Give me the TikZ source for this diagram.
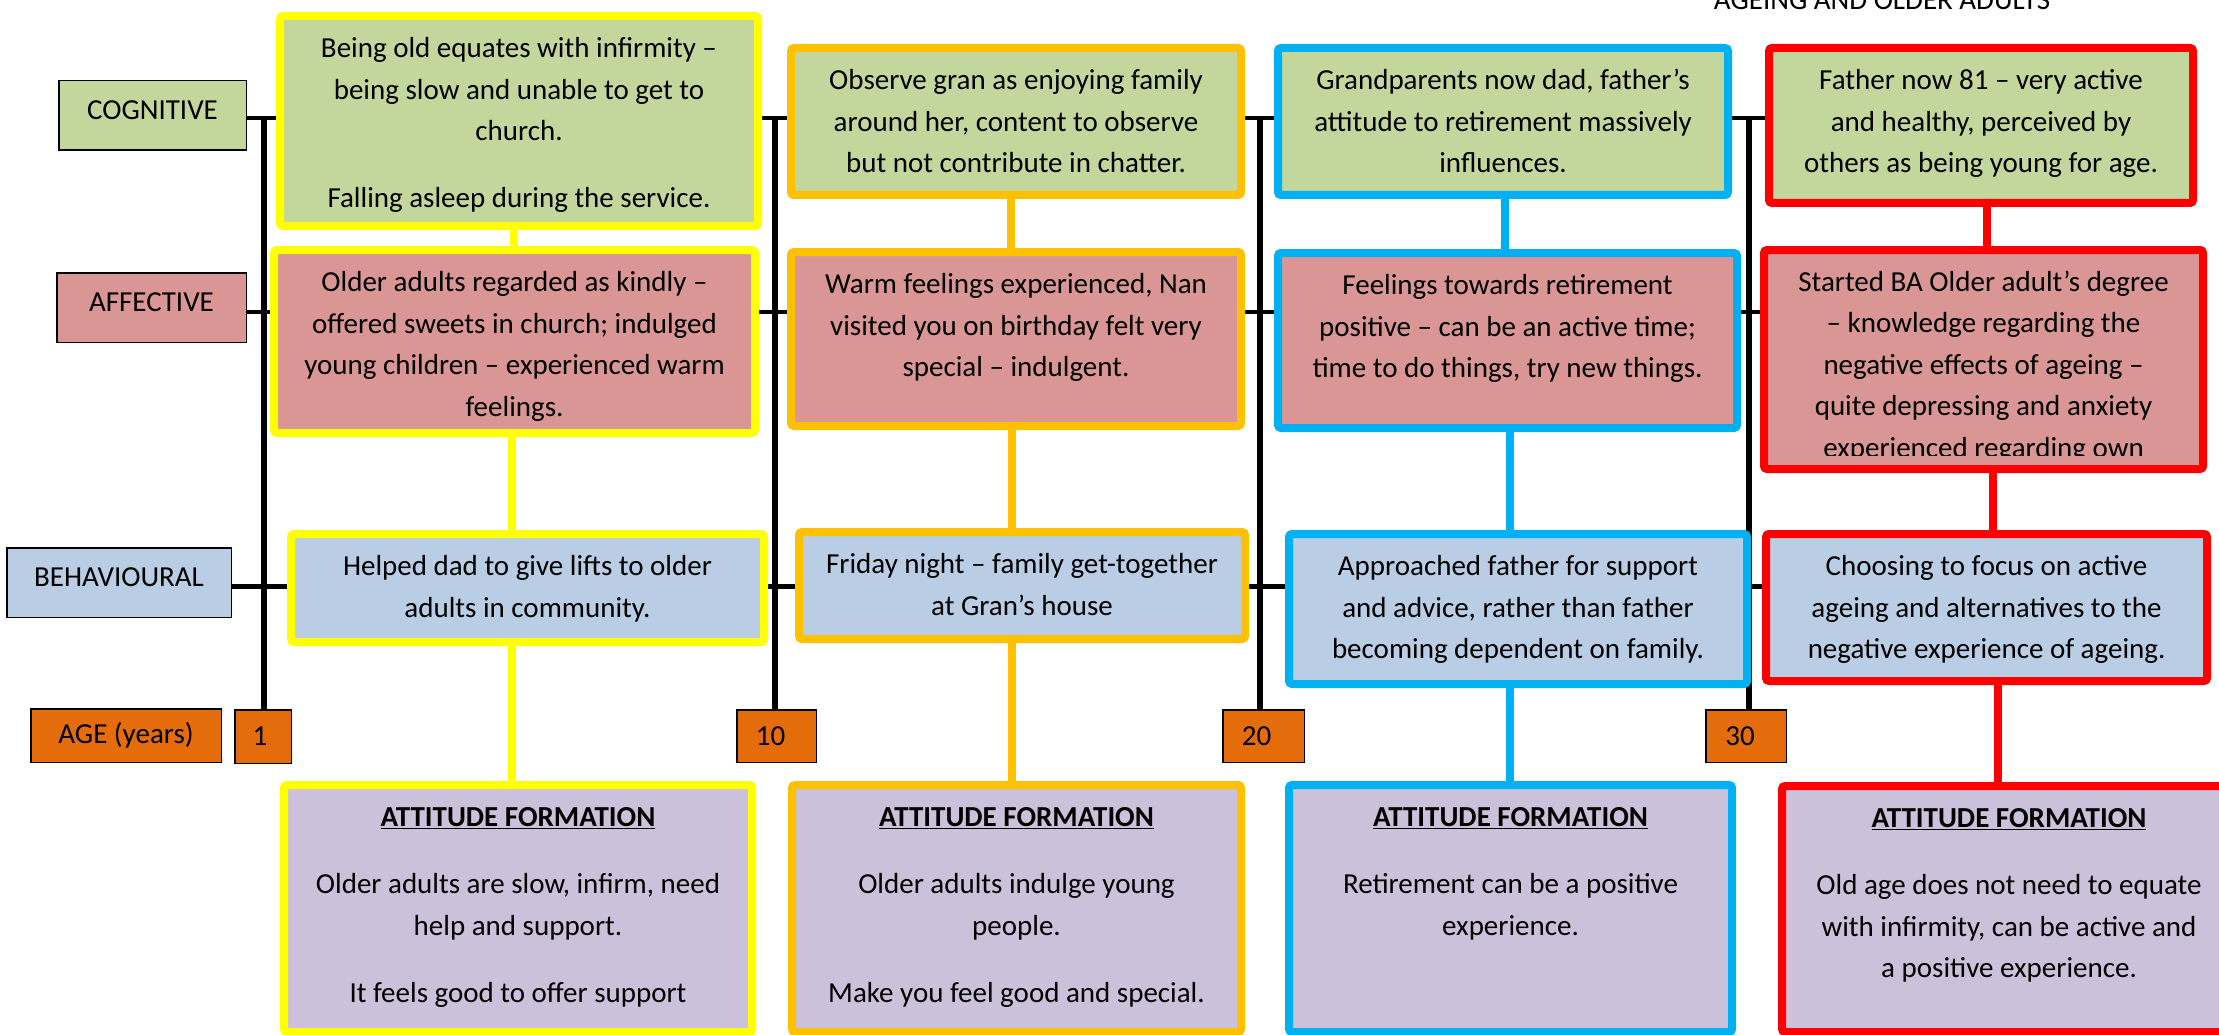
\documentclass[tikz,border=0pt]{standalone}
\usepackage{fontspec}
\setmainfont{Carlito}
\usetikzlibrary{fit,calc}
\definecolor{gfill}{HTML}{C3D69B}
\definecolor{rfill}{HTML}{D99694}
\definecolor{bfill}{HTML}{B9CDE5}
\definecolor{pfill}{HTML}{CCC1DA}
\definecolor{agefill}{HTML}{E46C0A}
\definecolor{yelb}{HTML}{FFFF00}
\definecolor{orgb}{HTML}{FFC000}
\definecolor{cyanb}{HTML}{00B0F0}
\definecolor{redb}{HTML}{FF0000}
\pgfdeclarelayer{paper}
\pgfdeclarelayer{bg}
\pgfsetlayers{paper,bg,main}
\tikzset{
  colbox/.style={line width=8pt, rounded corners=3pt, inner sep=0pt},
  txt/.style={align=center, inner sep=0pt, font=\fontsize{29}{41.5}\selectfont},
  lbl/.style={draw=black, line width=1.5pt, inner sep=0pt, font=\fontsize{29}{41.5}\selectfont},
  cat/.style={lbl, text height=18.7pt, text depth=11pt},
  tline/.style={black, line width=4pt},
  bline/.style={black, line width=5pt},
  vline/.style={black, line width=5.5pt},
  cline/.style={line width=7.5pt},
}
\newcommand\mkbox[8]{%
  \node[colbox, fill=#2, draw=#3, fit={(#4+4,#5+4)(#6-4,#7-4)}] (#1) {};
  \node[txt, anchor=north] (#1t) at ($(#1.north)+(0,16.5)$) {\strut #8};
}
\begin{document}
\begin{tikzpicture}[x=1pt,y=-1pt]
\useasboundingbox (0,0) rectangle (2219,1035);
\begin{pgfonlayer}{paper}
  \fill[white] (0,0) rectangle (2219,1035);
\end{pgfonlayer}

% title (cut at the top edge)
\node[txt, anchor=base] (title) at (1882,9.5) {AGEING AND OLDER ADULTS};

% category labels
\node[cat, fill=gfill, minimum width=187.5pt, minimum height=69.5pt] (cogL) at (152.5,115.5) {COGNITIVE};
\node[cat, fill=rfill, minimum width=189.5pt, minimum height=69.5pt] (affL) at (151.5,307.5) {AFFECTIVE};
\node[cat, fill=bfill, minimum width=224.5pt, minimum height=69.5pt] (behL) at (119,582.5) {BEHAVIOURAL};
\node[lbl, fill=agefill, minimum width=190.5pt, minimum height=53.5pt] (ageL) at (126,735.5) {AGE (years)};
\node[lbl, fill=agefill, minimum width=56.5pt, minimum height=53.5pt] (n1) at (263,736.5) {1\kern6pt};
\node[lbl, fill=agefill, minimum width=79.5pt, minimum height=52.5pt] (n10) at (776.5,736) {10\kern12pt};
\node[lbl, fill=agefill, minimum width=81.5pt, minimum height=52.5pt] (n20) at (1263.5,736) {20\kern14pt};
\node[lbl, fill=agefill, minimum width=80.5pt, minimum height=52.5pt] (n30) at (1746,736) {30\kern12pt};

% column 1 (age 1)
\mkbox{c1}{gfill}{yelb}{276}{12}{762}{230}{Being old equates with infirmity –\\ being slow and unable to get to\\ church.\\[25.5pt] Falling asleep during the service.}
\mkbox{a1}{rfill}{yelb}{270}{246}{759}{437}{Older adults regarded as kindly –\\ offered sweets in church; indulged\\ young children – experienced warm\\ feelings.}
\mkbox{b1}{bfill}{yelb}{287}{530}{768}{646}{Helped dad to give lifts to older\\ adults in community.}
\mkbox{t1}{pfill}{yelb}{280}{781}{756}{1036}{\underline{\textbf{ATTITUDE FORMATION}}\\[25.5pt] Older adults are slow, infirm, need\\ help and support.\\[25.5pt] It feels good to offer support}

% column 2 (age 10)
\mkbox{c2}{gfill}{orgb}{787}{44}{1245}{199}{Observe gran as enjoying family\\ around her, content to observe\\ but not contribute in chatter.}
\mkbox{a2}{rfill}{orgb}{787}{248}{1245}{430}{Warm feelings experienced, Nan\\ visited you on birthday felt very\\ special – indulgent.}
\mkbox{b2}{bfill}{orgb}{795}{528}{1249}{643}{Friday night – family get-together\\ at Gran’s house}
\mkbox{t2}{pfill}{orgb}{788}{781}{1245}{1036}{\underline{\textbf{ATTITUDE FORMATION}}\\[25.5pt] Older adults indulge young\\ people.\\[25.5pt] Make you feel good and special.}

% column 3 (age 20)
\mkbox{c3}{gfill}{cyanb}{1274}{44}{1732}{199}{Grandparents now dad, father’s\\ attitude to retirement massively\\ influences.}
\mkbox{a3}{rfill}{cyanb}{1274}{249}{1741}{432}{Feelings towards retirement\\ positive – can be an active time;\\ time to do things, try new things.}
\mkbox{b3}{bfill}{cyanb}{1285}{530}{1751}{688}{Approached father for support\\ and advice, rather than father\\ becoming dependent on family.}
\mkbox{t3}{pfill}{cyanb}{1285}{781}{1736}{1036}{\underline{\textbf{ATTITUDE FORMATION}}\\[25.5pt] Retirement can be a positive\\ experience.}

% column 4 (age 30)
\mkbox{c4}{gfill}{redb}{1765}{44}{2197}{207}{Father now 81 – very active\\ and healthy, perceived by\\ others as being young for age.}
\node[colbox, fill=rfill, draw=redb, fit={(1764,250)(2203,469)}] (a4) {};
\begin{scope}
  \clip (1768,254) rectangle (2199,455);
  \node[txt, anchor=north] (a4t) at ($(a4.north)+(0,16)$) {\strut Started BA Older adult’s degree\\ – knowledge regarding the\\ negative effects of ageing –\\ quite depressing and anxiety\\ experienced regarding own};
\end{scope}
\mkbox{b4}{bfill}{redb}{1762}{530}{2211}{685}{Choosing to focus on active\\ ageing and alternatives to the\\ negative experience of ageing.}
\mkbox{t4}{pfill}{redb}{1778}{782}{2240}{1036}{\underline{\textbf{ATTITUDE FORMATION}}\\[25.5pt] Old age does not need to equate\\ with infirmity, can be active and\\ a positive experience.}

% helper coordinates
\coordinate (hc) at (0,118);
\coordinate (ha) at (0,312);
\coordinate (hb) at (0,586);
\coordinate (v1) at (264,116);
\coordinate (v2) at (775,116);
\coordinate (v3) at (1260,116);
\coordinate (v4) at (1749,116);
\coordinate (k1a) at (514,0);  \coordinate (k1b) at (512,0);
\coordinate (k2a) at (1011,0); \coordinate (k2b) at (1012,0);
\coordinate (k3a) at (1505,0); \coordinate (k3b) at (1510,0);
\coordinate (k4a) at (1987,0); \coordinate (k4b) at (1993,0); \coordinate (k4c) at (1998,0);

\begin{pgfonlayer}{bg}
  % age time lines
  \draw[vline] (n1.north -| v1) -- (v1);
  \draw[vline] (n10.north -| v2) -- (v2);
  \draw[vline] (n20.north -| v3) -- (v3);
  \draw[vline] (n30.north -| v4) -- (v4);
  % cognitive row
  \draw[tline] (cogL.east |- hc) -- (c1.west |- hc);
  \draw[tline] (c1.east |- hc) -- (c2.west |- hc);
  \draw[tline] (c2.east |- hc) -- (c3.west |- hc);
  \draw[tline] (c3.east |- hc) -- (c4.west |- hc);
  % affective row
  \draw[tline] (affL.east |- ha) -- (a1.west |- ha);
  \draw[tline] (a1.east |- ha) -- (a2.west |- ha);
  \draw[tline] (a2.east |- ha) -- (a3.west |- ha);
  \draw[tline] (a3.east |- ha) -- (a4.west |- ha);
  % behavioural row
  \draw[bline] (behL.east |- hb) -- (b1.west |- hb);
  \draw[bline] (b1.east |- hb) -- (b2.west |- hb);
  \draw[bline] (b2.east |- hb) -- (b3.west |- hb);
  \draw[bline] (b3.east |- hb) -- (b4.west |- hb);
\end{pgfonlayer}

% coloured column links
\draw[cline, yelb] (c1.south -| k1a) -- (a1.north -| k1a);
\draw[cline, yelb] (a1.south -| k1b) -- (b1.north -| k1b);
\draw[cline, yelb] (b1.south -| k1b) -- (t1.north -| k1b);
\draw[cline, orgb] (c2.south -| k2a) -- (a2.north -| k2a);
\draw[cline, orgb] (a2.south -| k2b) -- (b2.north -| k2b);
\draw[cline, orgb] (b2.south -| k2b) -- (t2.north -| k2b);
\draw[cline, cyanb] (c3.south -| k3a) -- (a3.north -| k3a);
\draw[cline, cyanb] (a3.south -| k3b) -- (b3.north -| k3b);
\draw[cline, cyanb] (b3.south -| k3b) -- (t3.north -| k3b);
\draw[cline, redb] (c4.south -| k4a) -- (a4.north -| k4a);
\draw[cline, redb] (a4.south -| k4b) -- (b4.north -| k4b);
\draw[cline, redb] (b4.south -| k4c) -- (t4.north -| k4c);
\end{tikzpicture}
\end{document}
